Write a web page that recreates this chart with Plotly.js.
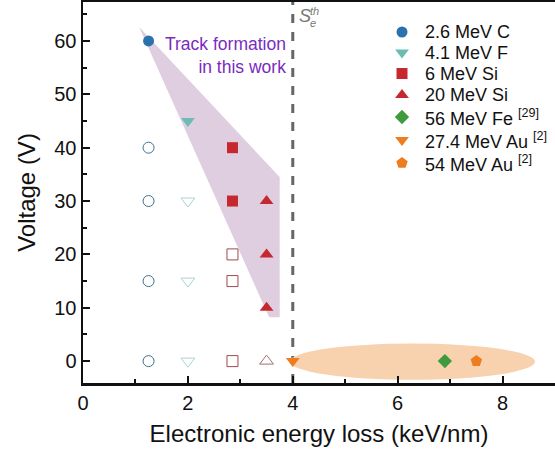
<!DOCTYPE html>
<html>
<head>
<meta charset="utf-8">
<script src="https://cdn.plot.ly/plotly-3.0.1.min.js"></script>
<style>html,body{margin:0;padding:0;background:#fff;}#chart{width:555px;height:454px;}</style>
</head>
<body>
<div id="chart"></div>
<script>
// Data
var seriesNames = ['2.6 MeV C', '4.1 MeV F', '6 MeV Si', '20 MeV Si', '56 MeV Fe <sup>[29]</sup>', '27.4 MeV Au <sup>[2]</sup>', '54 MeV Au <sup>[2]</sup>'];
var seriesX = [1.25, 2.0, 2.85, 3.5, 6.9, 4.0, 7.5];
var filledY = [[60], [45], [40, 30], [30, 20, 10], [0], [0], [0]];
var openY = [[40, 30, 15, 0], [30, 15, 0], [20, 15, 0], [0], [], [], []];
var fillColors = ['#2a72ad', '#6cbcb3', '#c5282f', '#c5282f', '#3e9a3e', '#ee7d1f', '#ee7d1f'];
var openColors = ['#3d6f8a', '#a9d4cf', '#9e4a4e', '#a07070', '#3e9a3e', '#ee7d1f', '#ee7d1f'];
var symbols = ['circle', 'triangle-down', 'square', 'triangle-up', 'diamond', 'triangle-down', 'pentagon'];
var sizes = [11, 12, 11, 12, 11, 12, 12];

// Region polygons (data coords)
var trackRegionX = [1.07, 3.75, 3.75, 3.55, 1.07];
var trackRegionY = [62.6, 34.5, 8.2, 8.2, 62.6];
var ellipseX = [3.94, 8.62];
var ellipseY = [-3.5, 3.3];
var thresholdX = 4.0;

// Legend layout (pixel positions on a hidden overlay axis)
var legendMarkerX = 402;
var legendTextX = 423;
var legendRowY = [32, 52.5, 73.5, 95, 117, 140, 163];

var traces = [];
traces.push({
  x: trackRegionX, y: trackRegionY, mode: 'lines', fill: 'toself',
  fillcolor: '#dfcde0', line: {width: 0}, hoverinfo: 'skip', showlegend: false
});
for (var i = 0; i < seriesNames.length; i++) {
  if (openY[i].length) {
    traces.push({
      x: openY[i].map(function(){return seriesX[i];}), y: openY[i], mode: 'markers',
      marker: {symbol: symbols[i] + '-open', size: sizes[i], color: openColors[i], line: {width: 1, color: openColors[i]}},
      showlegend: false
    });
  }
}
for (var j = 0; j < seriesNames.length; j++) {
  traces.push({
    x: filledY[j].map(function(){return seriesX[j];}), y: filledY[j], mode: 'markers',
    name: seriesNames[j], showlegend: false,
    marker: {symbol: symbols[j], size: sizes[j], color: fillColors[j], line: {width: 0}}
  });
}
// legend swatches
var annotations = [];
for (var k = 0; k < seriesNames.length; k++) {
  traces.push({
    x: [legendMarkerX], y: [legendRowY[k]], xaxis: 'x2', yaxis: 'y2', mode: 'markers', showlegend: false,
    marker: {symbol: symbols[k], size: sizes[k], color: fillColors[k], line: {width: 0}}
  });
  annotations.push({xref: 'x2', yref: 'y2', x: legendTextX, y: legendRowY[k], xanchor: 'left', yanchor: 'middle',
    showarrow: false, text: seriesNames[k], font: {size: 18, color: '#111'}});
}

annotations.push(
  {xref: 'x', yref: 'y', x: 3.9, y: 57.3, xanchor: 'right', yanchor: 'middle', align: 'right', showarrow: false,
   text: 'Track formation<br>in this work', font: {size: 17.5, color: '#7a2cc0'}},
  {xref: 'x', yref: 'paper', x: thresholdX, xshift: 4, y: 1.0, yshift: -2, xanchor: 'left', yanchor: 'top', showarrow: false,
   text: '<i>S</i>', font: {size: 18, color: '#777'}},
  {xref: 'x', yref: 'paper', x: thresholdX, xshift: 15, y: 1.0, yshift: -1, xanchor: 'left', yanchor: 'top', showarrow: false,
   text: '<i>th</i>', font: {size: 11, color: '#777'}},
  {xref: 'x', yref: 'paper', x: thresholdX, xshift: 15, y: 1.0, yshift: -13, xanchor: 'left', yanchor: 'top', showarrow: false,
   text: '<i>e</i>', font: {size: 11, color: '#777'}}
);

var layout = {
  width: 555, height: 454,
  margin: {l: 83, r: 0, t: 2, b: 71},
  paper_bgcolor: '#fff', plot_bgcolor: '#fff',
  font: {family: 'Liberation Sans, Arial, sans-serif', size: 18, color: '#111'},
  showlegend: false,
  xaxis: {
    range: [0, 9], showgrid: false, zeroline: false,
    showline: true, linewidth: 2.5, linecolor: '#111', mirror: true,
    ticks: 'inside', ticklen: 7, tickwidth: 2, tickcolor: '#111',
    tickvals: [0, 2, 4, 6, 8], ticktext: ['0', '2', '4', '6', '8'],
    minor: {tickvals: [1, 3, 5, 7], ticks: 'inside', ticklen: 4, tickwidth: 2, tickcolor: '#111'},
    tickfont: {size: 20},
    title: {text: 'Electronic energy loss (keV/nm)', font: {size: 24}, standoff: 13}
  },
  yaxis: {
    range: [-4.1, 67.3], showgrid: false, zeroline: false,
    showline: true, linewidth: 2.5, linecolor: '#111',
    ticks: 'inside', ticklen: 7, tickwidth: 2, tickcolor: '#111',
    tickvals: [0, 10, 20, 30, 40, 50, 60],
    minor: {tickvals: [5, 15, 25, 35, 45, 55, 65], ticks: 'inside', ticklen: 4, tickwidth: 2, tickcolor: '#111'},
    tickfont: {size: 20},
    title: {text: 'Voltage (V)', font: {size: 24}, standoff: 12}
  },
  xaxis2: {overlaying: 'x', anchor: 'y2', range: [83, 555], visible: false, fixedrange: true},
  yaxis2: {overlaying: 'y', anchor: 'x2', range: [383, 2], visible: false, fixedrange: true},
  shapes: [
    {type: 'circle', xref: 'x', yref: 'y', x0: ellipseX[0], x1: ellipseX[1], y0: ellipseY[0], y1: ellipseY[1],
     fillcolor: '#f8d2ae', line: {width: 0}, layer: 'below'},
    {type: 'line', xref: 'x', yref: 'paper', x0: thresholdX, x1: thresholdX, y0: 0, y1: 1,
     line: {color: '#666', width: 3, dash: 'dash'}, layer: 'below'}
  ],
  annotations: annotations
};

Plotly.newPlot('chart', traces, layout, {displayModeBar: false, staticPlot: true});
</script>
</body>
</html>
